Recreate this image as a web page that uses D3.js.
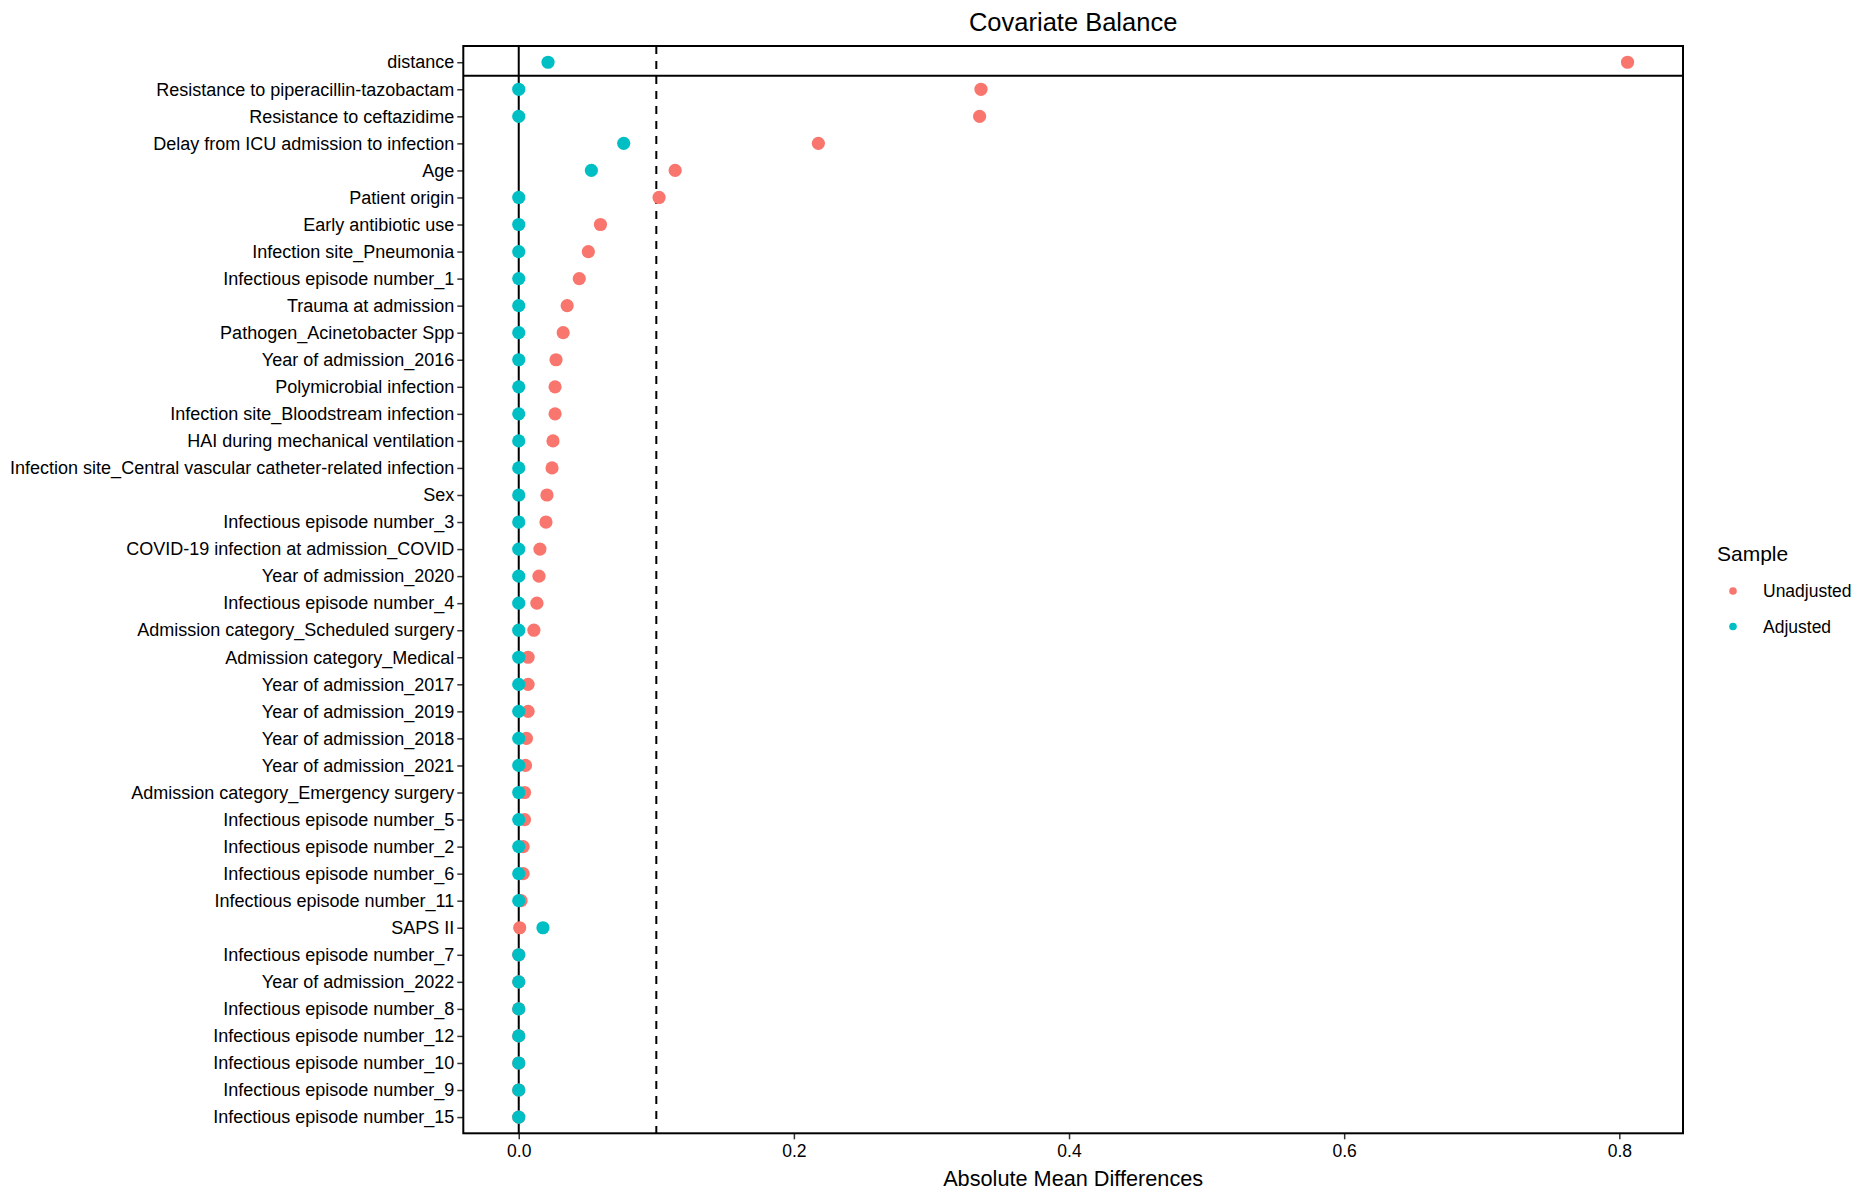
<!DOCTYPE html>
<html>
<head>
<meta charset="utf-8">
<script src="https://cdn.jsdelivr.net/npm/d3@7"></script>
<style>
  body { margin: 0; background: #fff; }
  text { font-family: "Liberation Sans", Arial, sans-serif; fill: #000; }
</style>
</head>
<body>
<div id="myChart"></div>
<script>
// covariates, top to bottom
var covariates = [
  "distance",
  "Resistance to piperacillin-tazobactam",
  "Resistance to ceftazidime",
  "Delay from ICU admission to infection",
  "Age",
  "Patient origin",
  "Early antibiotic use",
  "Infection site_Pneumonia",
  "Infectious episode number_1",
  "Trauma at admission",
  "Pathogen_Acinetobacter Spp",
  "Year of admission_2016",
  "Polymicrobial infection",
  "Infection site_Bloodstream infection",
  "HAI during mechanical ventilation",
  "Infection site_Central vascular catheter-related infection",
  "Sex",
  "Infectious episode number_3",
  "COVID-19 infection at admission_COVID",
  "Year of admission_2020",
  "Infectious episode number_4",
  "Admission category_Scheduled surgery",
  "Admission category_Medical",
  "Year of admission_2017",
  "Year of admission_2019",
  "Year of admission_2018",
  "Year of admission_2021",
  "Admission category_Emergency surgery",
  "Infectious episode number_5",
  "Infectious episode number_2",
  "Infectious episode number_6",
  "Infectious episode number_11",
  "SAPS II",
  "Infectious episode number_7",
  "Year of admission_2022",
  "Infectious episode number_8",
  "Infectious episode number_12",
  "Infectious episode number_10",
  "Infectious episode number_9",
  "Infectious episode number_15"
];

var unadjusted = [
  0.806, 0.336, 0.335, 0.2178, 0.1137, 0.102, 0.0594, 0.0506, 0.044, 0.0352,
  0.0323, 0.0271, 0.0264, 0.0264, 0.0249, 0.0242, 0.0205, 0.0198, 0.0154, 0.0147,
  0.0132, 0.011, 0.0068, 0.0068, 0.0068, 0.0056, 0.0049, 0.0042, 0.0042, 0.0032,
  0.0032, 0.0017, 0.0007, 0, 0, 0, 0, 0, 0, 0
];

var adjusted = [
  0.0213, 0, 0, 0.0763, 0.0528, 0, 0, 0, 0, 0,
  0, 0, 0, 0, 0, 0, 0, 0, 0, 0,
  0, 0, 0, 0, 0, 0, 0, 0, 0, 0,
  0, 0, 0.0176, 0, 0, 0, 0, 0, 0, 0
];

var xTicks = [0, 0.2, 0.4, 0.6, 0.8];
var threshold = 0.1;
var samples = ["Unadjusted", "Adjusted"];
var colors = ["#F8766D", "#00BFC4"];

var width = 1875, height = 1200;
var margin = {top: 46, right: 192, bottom: 66.7, left: 463.3};

var svg = d3.select("#myChart")
    .append("svg")
    .attr("width", width).attr("height", height);

var maxV = d3.max(unadjusted.concat(adjusted));
var pad = maxV * 0.05;

var x = d3.scaleLinear()
    .domain([-pad, maxV + pad])
    .range([margin.left, width - margin.right]);

var y = d3.scalePoint()
    .domain(covariates)
    .range([margin.top, height - margin.bottom])
    .padding(0.6);

//axes
var xAxis = svg.append("g")
    .attr("transform", "translate(0," + (height - margin.bottom) + ")")
    .call(d3.axisBottom(x).tickValues(xTicks).tickFormat(d3.format(".1f")).tickSize(6).tickPadding(5));
xAxis.select(".domain").remove();
xAxis.selectAll("line").attr("stroke", "#333").attr("stroke-width", 1.5);
xAxis.selectAll("text").style("font-size", "17.5px").attr("fill", "#000");

var yAxis = svg.append("g")
    .attr("transform", "translate(" + margin.left + ",0)")
    .call(d3.axisLeft(y).tickSize(6).tickPadding(3));
yAxis.select(".domain").remove();
yAxis.selectAll("line").attr("stroke", "#333").attr("stroke-width", 1.5);
yAxis.selectAll("text").style("font-size", "18px").attr("fill", "#000");

// reference lines
svg.append("line")
    .attr("x1", x(0)).attr("x2", x(0))
    .attr("y1", margin.top).attr("y2", height - margin.bottom)
    .attr("stroke", "#000").attr("stroke-width", 2);

svg.append("line")
    .attr("x1", x(threshold)).attr("x2", x(threshold))
    .attr("y1", margin.top).attr("y2", height - margin.bottom)
    .attr("stroke", "#000").attr("stroke-width", 2)
    .attr("stroke-dasharray", "8,7");

var sepY = (y(covariates[0]) + y(covariates[1])) / 2;
svg.append("line")
    .attr("x1", margin.left).attr("x2", width - margin.right)
    .attr("y1", sepY).attr("y2", sepY)
    .attr("stroke", "#000").attr("stroke-width", 2);

// points
var series = [unadjusted, adjusted];
series.forEach(function(vals, s) {
  svg.append("g")
    .selectAll("circle")
    .data(vals)
    .enter()
    .append("circle")
    .attr("cx", function(d) { return x(d); })
    .attr("cy", function(d, i) { return y(covariates[i]); })
    .attr("r", 6.6)
    .attr("fill", colors[s]);
});

// panel border
svg.append("rect")
    .attr("x", margin.left).attr("y", margin.top)
    .attr("width", width - margin.left - margin.right)
    .attr("height", height - margin.top - margin.bottom)
    .attr("fill", "none")
    .attr("stroke", "#000").attr("stroke-width", 2);

// titles
var cx = (margin.left + width - margin.right) / 2;
svg.append("text")
    .attr("x", cx).attr("y", 31)
    .attr("text-anchor", "middle")
    .style("font-size", "25.5px")
    .text("Covariate Balance");

svg.append("text")
    .attr("x", cx).attr("y", 1186)
    .attr("text-anchor", "middle")
    .style("font-size", "21.7px")
    .text("Absolute Mean Differences");

// legend
var legend = svg.append("g");
legend.append("text")
    .attr("x", 1717).attr("y", 561)
    .style("font-size", "21px")
    .text("Sample");

samples.forEach(function(name, i) {
  legend.append("circle")
      .attr("cx", 1733).attr("cy", 591 + i * 35.5)
      .attr("r", 3.8)
      .attr("fill", colors[i]);
  legend.append("text")
      .attr("x", 1763).attr("y", 591 + i * 35.5)
      .attr("dy", "0.35em")
      .style("font-size", "17.5px")
      .text(name);
});
</script>
</body>
</html>
